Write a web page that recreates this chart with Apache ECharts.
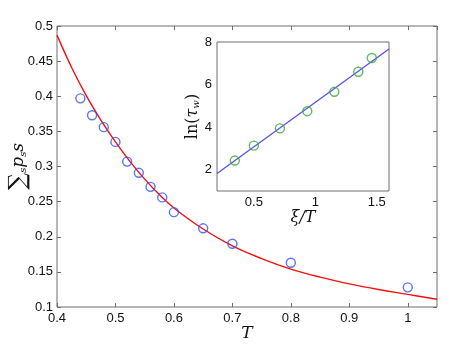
<!DOCTYPE html>
<html>
<head>
<meta charset="utf-8">
<script src="https://cdn.jsdelivr.net/npm/echarts@6/dist/echarts.min.js"></script>
<style>
  html, body { margin: 0; padding: 0; background: #fff; }
  #chart { width: 457px; height: 346px; }
</style>
</head>
<body>
<div id="chart"></div>
<script>
// main panel: measured points and fitted curve
const tVals = [0.44, 0.46, 0.48, 0.5, 0.52, 0.54, 0.56, 0.58, 0.6, 0.65, 0.7, 0.8, 1.0];
const sumVals = [0.397, 0.373, 0.356, 0.335, 0.307, 0.291, 0.271, 0.256, 0.235, 0.212, 0.190, 0.163, 0.128];
const fitT = [0.4, 0.425, 0.45, 0.475, 0.5, 0.525, 0.55, 0.575, 0.6, 0.65, 0.7, 0.75, 0.8, 0.85, 0.9, 0.95, 1.0, 1.05];
const fitSum = [0.487, 0.441, 0.401, 0.366, 0.335, 0.307, 0.282, 0.260, 0.241, 0.211, 0.187, 0.169, 0.154, 0.1425, 0.133, 0.125, 0.118, 0.111];

// inset: ln(tau_w) vs xi/T
const xiT = [0.345, 0.5, 0.712, 0.935, 1.155, 1.35, 1.46];
const lnTau = [2.43, 3.13, 3.94, 4.75, 5.66, 6.6, 7.25];
const lineX = [0.2, 1.6];
const lineY = [1.82, 7.67];

const insetXTicks = [0.5, 1, 1.5];
const insetYTicks = [2, 4, 6, 8];

const zip = (a, b) => a.map((v, i) => [v, b[i]]);
const fmt = v => String(+v.toFixed(2));

const axisCol = '#6e6e6e';
const lblFont = { fontFamily: 'Liberation Sans, Arial, sans-serif', fontSize: 13, color: '#111' };
const serif = 'DejaVu Serif, Liberation Serif, serif';

function tickAxis(extra) {
    return Object.assign({
        nameMoveOverlap: false,
        axisLine: { show: false },
        axisTick: { show: true, inside: true, length: 4, lineStyle: { color: axisCol } },
        splitLine: { show: false },
        axisLabel: Object.assign({ formatter: fmt }, lblFont)
    }, extra);
}

const chart = echarts.init(document.getElementById('chart'));
chart.setOption({
    backgroundColor: '#fff',
    animation: false,
    grid: [
        { left: 57, top: 26, width: 380, height: 281, outerBoundsMode: 'none', containLabel: false,
          show: true, borderColor: axisCol, borderWidth: 1, backgroundColor: '#fff', z: 0 },
        { left: 217, top: 42, width: 172, height: 149, outerBoundsMode: 'none', containLabel: false,
          show: true, borderColor: axisCol, borderWidth: 1, backgroundColor: '#fff', z: 5 }
    ],
    xAxis: [
        tickAxis({ type: 'value', gridIndex: 0, min: 0.4, max: 1.05, interval: 0.1,
            axisLabel: Object.assign({ formatter: fmt, margin: 5, showMaxLabel: false }, lblFont),
            name: 'T', nameLocation: 'middle', nameGap: 18,
            nameTextStyle: { fontFamily: serif, fontStyle: 'italic', fontSize: 17, color: '#111' } }),
        tickAxis({ type: 'value', gridIndex: 0, position: 'top', min: 0.4, max: 1.05, interval: 0.1,
            axisLabel: { show: false } }),
        tickAxis({ type: 'value', gridIndex: 1, min: 0.2, max: 1.6,
            axisTick: { show: true, inside: true, length: 4, customValues: insetXTicks, lineStyle: { color: axisCol } },
            axisLabel: Object.assign({ formatter: fmt, margin: 5, customValues: insetXTicks }, lblFont),
            name: 'ξ/T', nameLocation: 'middle', nameGap: 19,
            nameTextStyle: { fontFamily: serif, fontStyle: 'italic', fontSize: 16, color: '#111' } }),
        tickAxis({ type: 'value', gridIndex: 1, position: 'top', min: 0.2, max: 1.6,
            axisTick: { show: true, inside: true, length: 4, customValues: insetXTicks, lineStyle: { color: axisCol } },
            axisLabel: { show: false } })
    ],
    yAxis: [
        tickAxis({ type: 'value', gridIndex: 0, min: 0.1, max: 0.5, interval: 0.05,
            axisLabel: Object.assign({ formatter: fmt, margin: 4 }, lblFont),
            name: '{sum|∑}{sub|s}{it|p}{sub|s}{it|s}', nameLocation: 'middle', nameGap: 26, nameRotate: 90,
            nameTextStyle: {
                rich: {
                    sum: { fontFamily: serif, fontSize: 24, color: '#111' },
                    it: { fontFamily: serif, fontStyle: 'italic', fontSize: 17, color: '#111' },
                    sub: { fontFamily: serif, fontStyle: 'italic', fontSize: 10, color: '#111', padding: [8, 0, 0, 0] }
                }
            } }),
        tickAxis({ type: 'value', gridIndex: 0, position: 'right', min: 0.1, max: 0.5, interval: 0.05,
            axisLabel: { show: false } }),
        tickAxis({ type: 'value', gridIndex: 1, min: 1, max: 8,
            axisTick: { show: true, inside: true, length: 4, customValues: insetYTicks, lineStyle: { color: axisCol } },
            axisLabel: Object.assign({ formatter: fmt, margin: 5, customValues: insetYTicks }, lblFont),
            name: '{r|ln(}{it|τ}{sub|w}{r|)}', nameLocation: 'middle', nameGap: 16, nameRotate: 90,
            nameTextStyle: {
                rich: {
                    r: { fontFamily: serif, fontSize: 16, color: '#111' },
                    it: { fontFamily: serif, fontStyle: 'italic', fontSize: 16, color: '#111' },
                    sub: { fontFamily: serif, fontStyle: 'italic', fontSize: 10, color: '#111', padding: [7, 0, 0, 0] }
                }
            } }),
        tickAxis({ type: 'value', gridIndex: 1, position: 'right', min: 1, max: 8,
            axisTick: { show: true, inside: true, length: 4, customValues: insetYTicks, lineStyle: { color: axisCol } },
            axisLabel: { show: false } })
    ],
    series: [
        { type: 'line', xAxisIndex: 0, yAxisIndex: 0, data: zip(fitT, fitSum), smooth: 0.4, symbol: 'none',
          lineStyle: { color: '#f21010', width: 1.4 }, z: 2 },
        { type: 'scatter', xAxisIndex: 0, yAxisIndex: 0, data: zip(tVals, sumVals), symbol: 'circle', symbolSize: 9,
          itemStyle: { color: 'transparent', borderColor: '#3352f5', borderWidth: 1.4 }, z: 3 },
        { type: 'line', xAxisIndex: 2, yAxisIndex: 2, data: zip(lineX, lineY), symbol: 'none',
          lineStyle: { color: '#5a4cf2', width: 1.3 }, z: 6 },
        { type: 'scatter', xAxisIndex: 2, yAxisIndex: 2, data: zip(xiT, lnTau), symbol: 'circle', symbolSize: 9,
          itemStyle: { color: 'transparent', borderColor: '#35a835', borderWidth: 1.4 }, z: 7 }
    ]
});
</script>
</body>
</html>
